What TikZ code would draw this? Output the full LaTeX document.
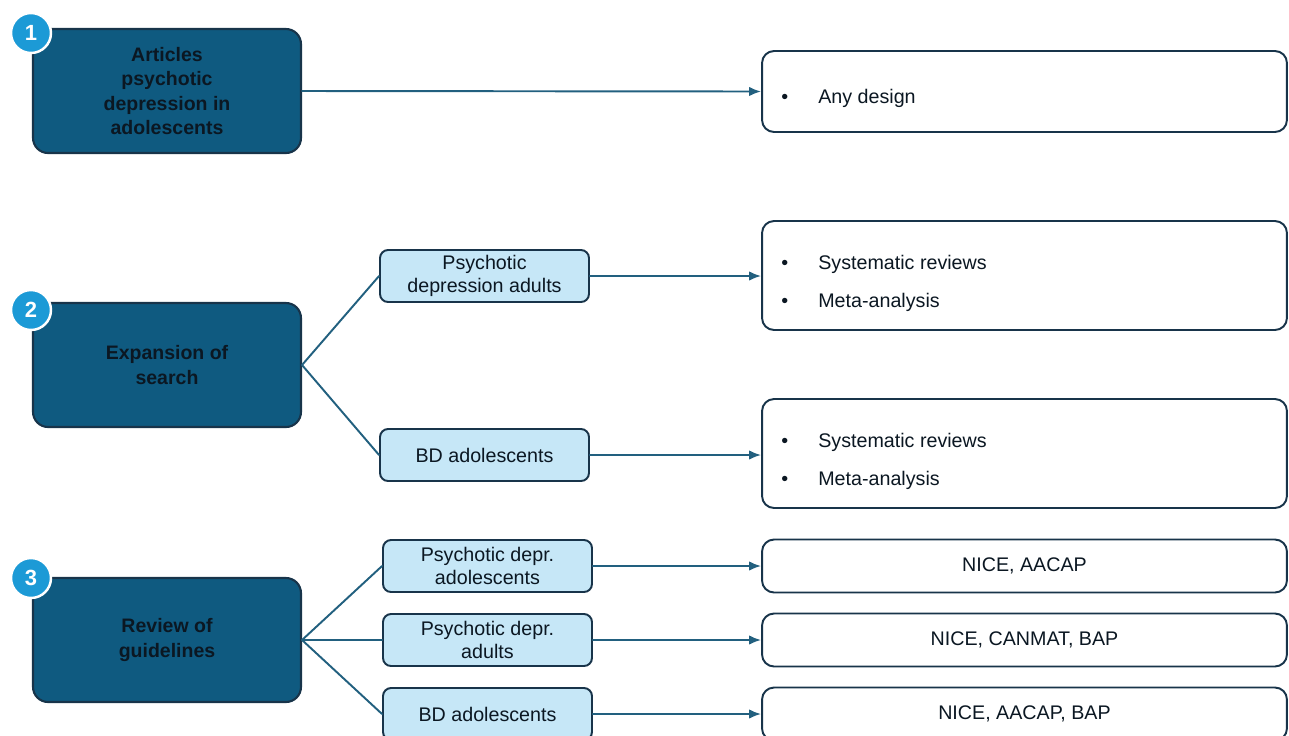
\documentclass[tikz,border=0pt]{standalone}
\usepackage{fontspec}
\setmainfont{Liberation Sans}
\usetikzlibrary{arrows.meta,positioning}
\definecolor{petrol}{HTML}{0F5A80}
\definecolor{borde}{HTML}{18344A}
\definecolor{celeste}{HTML}{C6E7F7}
\definecolor{insignia}{HTML}{1C9AD6}
\definecolor{linea}{HTML}{22607F}
\definecolor{tinta}{HTML}{0B1722}

\begin{document}
\begin{tikzpicture}[x=0.02cm,y=-0.02cm,>={Latex[length=2.4mm,width=1.9mm]},line cap=round,
    paso/.style={draw=borde,line width=1.2pt,fill=petrol,rounded corners=0.3cm,
                 minimum width=5.36cm,minimum height=2.48cm,align=center,
                 font=\bfseries\fontsize{11.1}{14}\selectfont,text=tinta},
    grupo/.style={draw=borde,line width=1.1pt,fill=celeste,rounded corners=0.16cm,
                  minimum width=4.18cm,minimum height=1.04cm,align=center,
                  font=\fontsize{11.2}{13}\selectfont,text=tinta,inner sep=1pt},
    fuente/.style={draw=borde,line width=1.1pt,fill=white,rounded corners=0.24cm,
                   minimum width=10.5cm,font=\fontsize{11.2}{13}\selectfont,text=tinta},
    num/.style={circle,draw=white,line width=1.4pt,fill=insignia,minimum size=0.8cm,
                inner sep=0pt,text=white,font=\bfseries\fontsize{12.5}{14}\selectfont},
    item/.style={anchor=base west,font=\fontsize{11.2}{13}\selectfont,text=tinta,inner sep=0pt},
    rama/.style={linea,line width=1.1pt}]
  \useasboundingbox (0,0) rectangle (1289,735);
  \clip (0,0) rectangle (1289,735);
  % --- pasos principales ---
  \node[paso] (p1) at (167,91)  {Articles\\psychotic\\depression in\\adolescents};
  \node[paso] (p2) at (167,365) {Expansion of\\search};
  \node[paso] (p3) at (167,640) {Review of\\guidelines};
  \node[num] (n1) at (31,33)  {1};
  \node[num] (n2) at (31,310) {2};
  \node[num] (n3) at (31,578) {3};
  % --- subgrupos ---
  \node[grupo] (g1) at (484.5,276) {Psychotic\\depression adults};
  \node[grupo] (g2) at (484.5,455) {BD adolescents};
  \node[grupo] (g3) at (487.5,566) {Psychotic depr.\\adolescents};
  \node[grupo] (g4) at (487.5,640) {Psychotic depr.\\adults};
  \node[grupo] (g5) at (487.5,714) {BD adolescents};
  % --- tipos de fuente ---
  \node[fuente,minimum height=1.62cm] (f1) at (1024.5,91.5) {};
  \node[fuente,minimum height=2.18cm] (f2) at (1024.5,275.5) {};
  \node[fuente,minimum height=2.18cm] (f3) at (1024.5,453.5) {};
  \node[fuente,minimum height=1.06cm] (f4) at (1024.5,566) {NICE, AACAP};
  \node[fuente,minimum height=1.06cm] (f5) at (1024.5,640) {NICE, CANMAT, BAP};
  \node[fuente,minimum height=1.06cm] (f6) at (1024.5,714) {NICE, AACAP, BAP};
  \foreach \y/\t in {103/Any design,269/Systematic reviews,307/Meta-analysis,
                     447/Systematic reviews,485/Meta-analysis}{
    \node[item] at (781,\y) {\textbullet};
    \node[item] at (818,\y) {\t};
  }
  % --- conectores ---
  \draw[rama,->] (p1.east) -- (f1.west);
  \draw[rama] (p2.east) -- (g1.west);
  \draw[rama] (p2.east) -- (g2.west);
  \draw[rama] (p3.east) -- (g3.west);
  \draw[rama] (p3.east) -- (g4.west);
  \draw[rama] (p3.east) -- (g5.west);
  \draw[rama,->] (g1.east) -- (g1.east -| f2.west);
  \draw[rama,->] (g2.east) -- (g2.east -| f3.west);
  \draw[rama,->] (g3.east) -- (f4.west);
  \draw[rama,->] (g4.east) -- (f5.west);
  \draw[rama,->] (g5.east) -- (f6.west);
\end{tikzpicture}
\end{document}
